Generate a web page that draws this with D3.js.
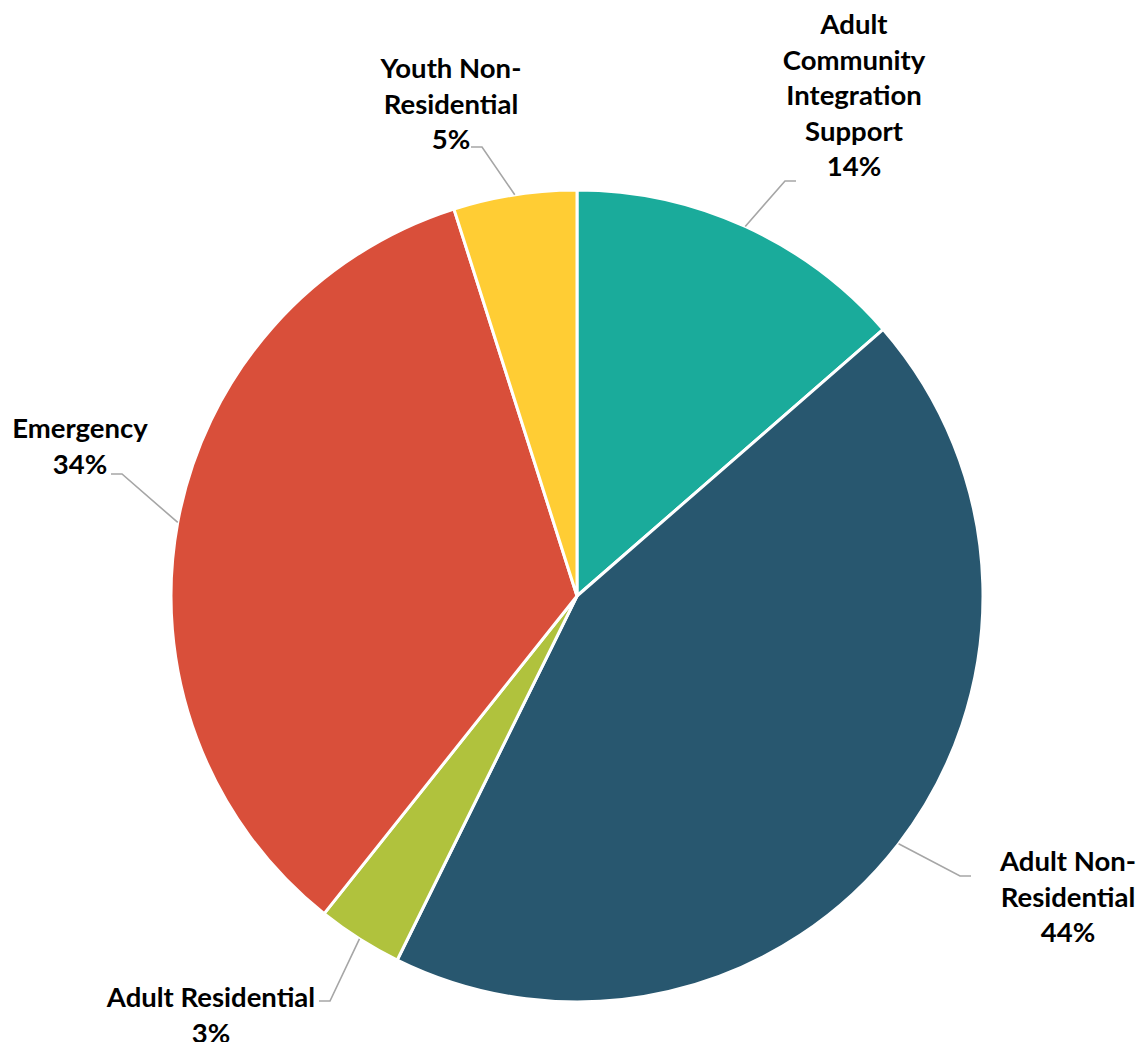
<!DOCTYPE html>
<html lang="en">
<head>
<meta charset="UTF-8">
<title>Pie chart</title>
<style>
    body { margin: 0; background: #fff; }
    svg text { font-family: Lato, "Open Sans", sans-serif; font-weight: 700; fill: #000; }
</style>
</head>
<body>
<div id="chart"></div>
<script src="https://d3js.org/d3.v7.min.js"></script>
<script>
// data, clockwise from 12 o'clock
const categories = ["Adult Community Integration Support", "Adult Non-Residential", "Adult Residential", "Emergency", "Youth Non-Residential"];
const values = [13.6, 43.7, 3.4, 34.4, 4.9];
const colors = ["#1AAB9B", "#28576F", "#B0C23D", "#D94F3A", "#FFCD34"];
// how each label wraps
const labelLines = [
    ["Adult", "Community", "Integration", "Support"],
    ["Adult Non-", "Residential"],
    ["Adult Residential"],
    ["Emergency"],
    ["Youth Non-", "Residential"]
];

const width = 1139, height = 1042;
const cx = 577, cy = 596, radius = 406;
const lineH = 35.6;

// label layout: text centre x, first baseline y, leader knee
const labelPos = [
    { x: 854, y: 34, knee: [785, 181], side: 1 },
    { x: 1068, y: 871, knee: [960, 876], side: 1 },
    { x: 211, y: 1007, knee: [330, 1001], side: -1 },
    { x: 80, y: 438, knee: [122, 474], side: -1 },
    { x: 451, y: 78, knee: [482, 147], side: -1 }
];

const data = categories.map((c, i) => ({ name: c, value: values[i], color: colors[i], lines: labelLines[i], pos: labelPos[i] }));

const svg = d3.select("#chart").append("svg")
    .attr("width", width)
    .attr("height", height);

const pie = d3.pie().value(d => d.value).sort(null);
const arc = d3.arc().innerRadius(0).outerRadius(radius);
const arcs = pie(data);

const g = svg.append("g").attr("transform", `translate(${cx},${cy})`);

g.selectAll("path.slice")
    .data(arcs)
    .enter().append("path")
    .attr("class", "slice")
    .attr("d", arc)
    .attr("fill", d => d.data.color)
    .attr("stroke", "#fff")
    .attr("stroke-width", 3)
    .attr("stroke-linejoin", "round");

// leader lines: from the edge at mid angle, to the knee, then a short horizontal run
svg.append("g").selectAll("polyline")
    .data(arcs)
    .enter().append("polyline")
    .attr("fill", "none")
    .attr("stroke", "#A6A6A6")
    .attr("stroke-width", 1.6)
    .attr("points", d => {
        const a = (d.startAngle + d.endAngle) / 2;
        const x0 = cx + radius * Math.sin(a), y0 = cy - radius * Math.cos(a);
        const k = d.data.pos.knee;
        const x2 = k[0] + (d.data.pos.side === 1 ? 11 : -11);
        return `${x0},${y0} ${k[0]},${k[1]} ${x2},${k[1]}`;
    });

const labels = svg.append("g").selectAll("text")
    .data(arcs)
    .enter().append("text")
    .attr("text-anchor", "middle")
    .attr("font-size", 27.5);

labels.each(function(d) {
    const t = d3.select(this);
    const lines = d.data.lines.concat([Math.round(d.data.value) + "%"]);
    lines.forEach((l, i) => {
        t.append("tspan")
            .attr("x", d.data.pos.x)
            .attr("y", d.data.pos.y + i * lineH)
            .text(l);
    });
});
</script>
</body>
</html>
